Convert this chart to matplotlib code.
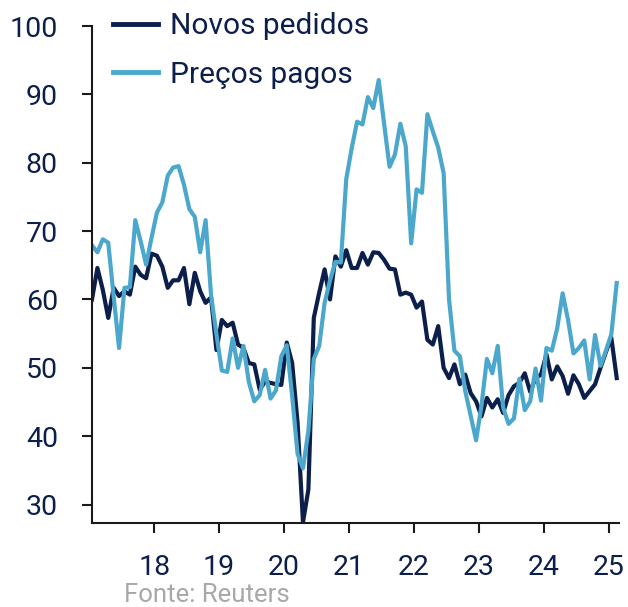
import numpy as np
import matplotlib
matplotlib.use("Agg")
import matplotlib.pyplot as plt
from matplotlib.lines import Line2D

# Monthly data, Jan 2017 - Feb 2025
novos_pedidos = [
    60.0, 64.6, 61.4, 57.3, 61.7, 60.5, 61.2, 60.7, 64.8, 63.6, 63.1, 66.7,  # 2017
    66.4, 64.8, 61.7, 62.8, 62.8, 64.6, 59.3, 63.9, 61.2, 59.5, 60.3, 52.6,  # 2018
    57.0, 56.1, 56.6, 53.4, 52.9, 50.7, 50.5, 46.8, 48.0, 47.8, 47.6, 47.5,  # 2019
    53.7, 50.7, 42.0, 27.4, 32.2, 57.3, 61.0, 64.4, 60.0, 66.3, 64.8, 67.2,  # 2020
    64.6, 64.6, 66.8, 65.1, 66.9, 66.8, 65.8, 64.5, 64.4, 60.7, 61.0, 60.7,  # 2021
    58.8, 59.7, 54.1, 53.4, 56.1, 50.0, 48.5, 50.5, 47.6, 49.0, 46.3, 45.1,  # 2022
    42.9, 45.6, 44.2, 45.4, 43.4, 46.0, 47.3, 47.8, 49.2, 46.5, 48.5, 49.0,  # 2023
    52.0, 48.3, 50.2, 48.8, 46.2, 48.9, 47.6, 45.6, 46.6, 47.6, 50.0, 52.3,  # 2024
    54.4, 48.5,                                                              # 2025
]
precos_pagos = [
    67.9, 66.9, 68.8, 68.3, 60.5, 52.9, 61.7, 61.8, 71.6, 68.5, 65.1, 69.0,  # 2017
    72.7, 74.2, 78.1, 79.3, 79.5, 76.8, 73.2, 72.1, 66.9, 71.6, 60.7, 54.9,  # 2018
    49.6, 49.4, 54.3, 50.0, 53.2, 47.9, 45.1, 46.0, 49.7, 45.5, 46.7, 51.7,  # 2019
    53.3, 45.9, 37.4, 35.3, 40.8, 51.3, 53.2, 59.5, 62.8, 65.5, 65.4, 77.6,  # 2020
    82.1, 86.0, 85.6, 89.6, 88.0, 92.1, 85.7, 79.4, 81.2, 85.7, 82.4, 68.2,  # 2021
    76.1, 75.6, 87.1, 84.6, 82.2, 78.5, 60.0, 52.5, 51.7, 46.6, 43.0, 39.4,  # 2022
    44.5, 51.3, 49.2, 53.2, 44.2, 41.8, 42.6, 48.4, 43.8, 45.1, 49.9, 45.2,  # 2023
    52.9, 52.5, 55.8, 60.9, 57.0, 52.1, 52.9, 54.0, 48.3, 54.8, 50.3, 52.5,  # 2024
    54.9, 62.4,                                                              # 2025
]
start_year = 2017
tick_years = [2018, 2019, 2020, 2021, 2022, 2023, 2024, 2025]
tick_labels = ["18", "19", "20", "21", "22", "23", "24", "25"]
y_ticks = [30, 40, 50, 60, 70, 80, 90, 100]
series_names = ["Novos pedidos", "Preços pagos"]
source_text = "Fonte: Reuters"

NAVY = "#0c1f4a"
LIGHT = "#4ba8cc"
FONT = ["Roboto", "DejaVu Sans"]
plt.rcParams["font.family"] = FONT

n = len(novos_pedidos)
t = start_year + (np.arange(n) + 0.5) / 12.0

fig = plt.figure(figsize=(6.28, 6.07), dpi=100)
ax = fig.add_axes([92 / 628, 1 - 523 / 607, (619 - 92) / 628, (523 - 26) / 607])

ax.plot(t, novos_pedidos, color=NAVY, lw=3.0, solid_joinstyle="round", label=series_names[0])
ax.plot(t, precos_pagos, color=LIGHT, lw=3.0, solid_joinstyle="round", label=series_names[1])

ax.set_xlim(start_year + 0.5 / 12, 2025.16)
ax.set_ylim(27.3, 100)
ax.set_xticks(tick_years)
ax.set_xticklabels(tick_labels)
ax.set_yticks(y_ticks)

for s in ["top", "right"]:
    ax.spines[s].set_visible(False)
for s in ["left", "bottom"]:
    ax.spines[s].set_linewidth(1.5)
    ax.spines[s].set_color("#1a1a1a")

ax.tick_params(axis="both", direction="out", length=7.5, width=1.5, color="#1a1a1a",
               labelsize=20.5, labelcolor=NAVY)
ax.tick_params(axis="x", pad=15)
ax.tick_params(axis="y", pad=17)

handles = [Line2D([], [], color=NAVY, lw=3.5), Line2D([], [], color=LIGHT, lw=3.5)]
fig.legend(handles, series_names, loc="upper left", bbox_to_anchor=(113 / 628, 1 - 12 / 607),
           frameon=False, fontsize=21.5, labelcolor=NAVY, handlelength=1.5, handletextpad=0.4,
           labelspacing=0.69, borderpad=0, borderaxespad=0)

fig.text(124 / 628, 1 - 602 / 607, source_text, color="#a8a8a8", fontsize=18.5,
         ha="left", va="baseline")

fig.savefig("out.png", dpi=100)
